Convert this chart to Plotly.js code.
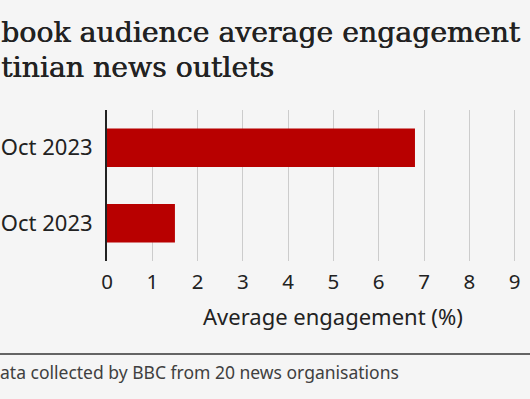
<!DOCTYPE html>
<html><head><meta charset="utf-8">
<script src="https://cdn.plot.ly/plotly-3.0.1.min.js"></script>
<style>html,body{margin:0;padding:0;background:#f5f5f5;overflow:hidden}</style>
</head><body><div id="chart" style="width:530px;height:399px"></div>
<script>
// Categories (full names) and the part of each label visible in the cropped reference
const periods = ["Before 7 Oct 2023", "After 7 Oct 2023"];
const periodLabels = ["Oct 2023", "Oct 2023"];
const engagement = [6.8, 1.5];
const xTicks = [0, 1, 2, 3, 4, 5, 6, 7, 8, 9, 10];
const titleLines = ["book audience average engagement", "tinian news outlets"];
const xTitle = "Average engagement (%)";
const sourceText = "ata collected by BBC from 20 news organisations";

const L = 107, R = 530, T = 110, B = 261;
const px = p => (p - L) / (R - L);
const py = p => (B - p) / (B - T);
const sans = "Noto Sans, Open Sans, sans-serif";
const serif = "DejaVu Serif, serif";

const trace = {
  type: "bar", orientation: "h",
  y: periods, x: engagement, width: 0.51,
  marker: {color: "#b80000"},
  hoverinfo: "skip"
};

const layout = {
  width: 530, height: 399,
  margin: {l: L, r: 0, t: T, b: 399 - B, pad: 0},
  paper_bgcolor: "#f5f5f5", plot_bgcolor: "#f5f5f5",
  showlegend: false,
  xaxis: {
    range: [0, 9.34], tickmode: "array", tickvals: xTicks,
    showgrid: true, gridcolor: "#cccccc", gridwidth: 1,
    zeroline: false, showline: false, ticks: "",
    tickfont: {family: sans, size: 20.5, color: "#222"},
    ticklabelstandoff: 6, fixedrange: true
  },
  yaxis: {
    type: "category", categoryorder: "array", categoryarray: periods,
    tickmode: "array", tickvals: periods, ticktext: periodLabels,
    autorange: "reversed",
    showgrid: false, zeroline: false,
    showline: true, linecolor: "#222", linewidth: 2, ticks: "",
    tickfont: {family: sans, size: 22, color: "#222"},
    ticklabelstandoff: 8, fixedrange: true
  },
  shapes: [{
    type: "line", xref: "paper", yref: "paper",
    x0: px(-5), x1: px(540), y0: py(354), y1: py(354),
    line: {color: "#333", width: 1.5}
  }],
  annotations: [
    {text: titleLines[0], xref: "paper", yref: "paper", x: px(-1), y: py(32),
     xanchor: "left", yanchor: "middle", showarrow: false,
     font: {family: serif, size: 28.3, color: "#222", shadow: "0.6px 0 0 #222"}},
    {text: titleLines[1], xref: "paper", yref: "paper", x: px(-1), y: py(67),
     xanchor: "left", yanchor: "middle", showarrow: false,
     font: {family: serif, size: 28.3, color: "#222", shadow: "0.6px 0 0 #222"}},
    {text: xTitle, xref: "x", yref: "paper", x: 5, y: py(315.5),
     xanchor: "center", yanchor: "middle", showarrow: false,
     font: {family: sans, size: 22, color: "#222"}},
    {text: sourceText, xref: "paper", yref: "paper", x: px(-2), y: py(372),
     xanchor: "left", yanchor: "middle", showarrow: false,
     font: {family: sans, size: 17.5, color: "#404040"}}
  ]
};

Plotly.newPlot("chart", [trace], layout, {displayModeBar: false, staticPlot: true});
</script></body></html>
